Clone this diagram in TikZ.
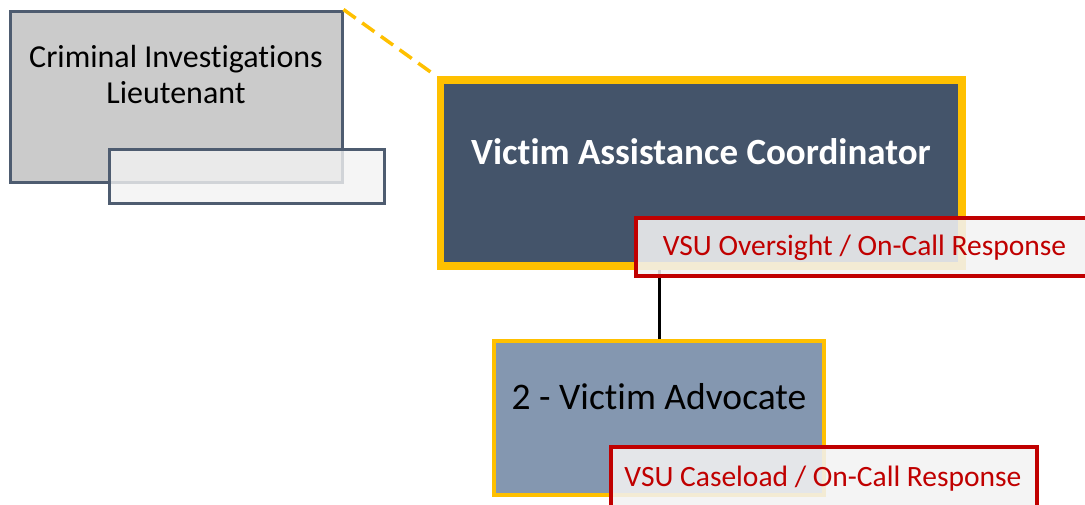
\documentclass[tikz,border=0pt]{standalone}
\usepackage{fontspec}
\setmainfont{Carlito}[Ligatures=NoCommon]
\definecolor{slate}{HTML}{44546A}
\definecolor{slateline}{HTML}{4E5C70}
\definecolor{boxgray}{HTML}{CBCBCB}
\definecolor{advblue}{HTML}{8497B0}
\definecolor{gold}{HTML}{FFC000}
\definecolor{darkred}{HTML}{C00000}
\definecolor{paper}{HTML}{F2F2F2}
\tikzset{
  lieubox/.style={draw=slateline, fill=boxgray, line width=3pt, inner sep=0pt},
  subbox/.style={draw=slateline, fill=paper, fill opacity=0.8, line width=3pt, inner sep=0pt},
  coordbox/.style={draw=gold, fill=slate, line width=7.5pt, inner sep=0pt},
  advbox/.style={draw=gold, fill=advblue, line width=4pt, inner sep=0pt},
  dutybox/.style={draw=darkred, fill=paper, fill opacity=0.88, line width=4pt, inner sep=0pt},
  dutytext/.style={text=darkred, font=\fontsize{29.5}{35}\selectfont, inner sep=0pt},
  link/.style={draw=black, line width=3pt},
  dotted link/.style={draw=gold, line width=3.5pt, dash pattern=on 15pt off 8pt},
}
\begin{document}
\begin{tikzpicture}[x=1pt,y=-1pt]
  \useasboundingbox (0,0) rectangle (1085,504);
  \clip (0,0) rectangle (1085,504);

  % Criminal Investigations Lieutenant
  \node[lieubox, minimum width=332pt, minimum height=171pt] (lt) at (176,96.5) {};
  \node[align=center, font=\fontsize{32}{36}\selectfont, inner sep=0pt] (lttext) at (176,75)
    {Criminal Investigations\\Lieutenant};
  \node[subbox, minimum width=275pt, minimum height=54pt] (ltsub) at (246.5,176) {};

  % Victim Assistance Coordinator
  \node[coordbox, minimum width=521.5pt, minimum height=186pt] (vac) at (701,173) {};
  \node[text=white, font=\bfseries\fontsize{37}{44}\selectfont, inner sep=0pt] (vactext) at (701,152)
    {Victim Assistance Coordinator};

  % dashed advisory link
  \draw[dotted link] (lt.north east) -- (vac.north west);

  % 2 - Victim Advocate
  \node[advbox, minimum width=330pt, minimum height=154pt] (va) at (659,418) {};
  \node[font=\fontsize{37.5}{44}\selectfont, inner sep=0pt] (vatext) at (659,397)
    {2 - Victim Advocate};

  % reporting line
  \draw[link] (va.north) -- (va.north |- vac.south);

  % duty tags
  \node[dutybox, minimum width=464pt, minimum height=58pt] (duty1) at (868,247) {};
  \node[dutytext] (duty1text) at (864.5,248) {VSU Oversight / On-Call Response};
  \node[dutybox, minimum width=426pt, minimum height=73pt] (duty2) at (824,483.5) {};
  \node[dutytext] (duty2text) at (823,479) {VSU Caseload / On-Call Response};
\end{tikzpicture}
\end{document}
